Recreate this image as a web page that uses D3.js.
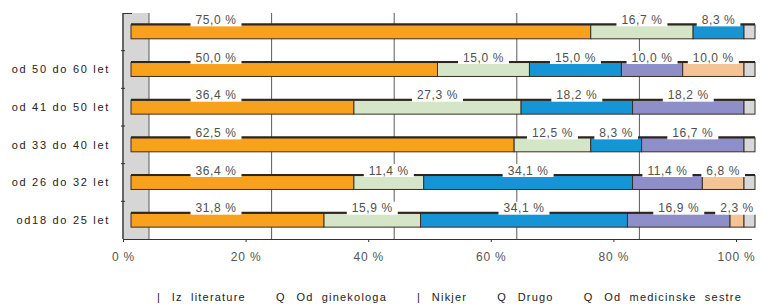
<!DOCTYPE html>
<meta charset="utf-8">
<script src="https://d3js.org/d3.v7.min.js"></script>
<style>
  body { margin: 0; background: #fff; }
  text { font-family: "Liberation Sans", Arial, sans-serif; }
</style>
<div id="chart"></div>
<script>

// categories (top row has no label in the original)
var categories = ["", "od 50 do 60 let", "od 41  do 50 let", "od 33 do 40 let", "od 26 do 32 let", "od18 do 25 let"];

// series names and the odd symbol glyphs that appear in the legend
var seriesNames = ["Iz literature", "Od ginekologa", "Nikjer", "Drugo", "Od medicinske sestre"];
var legendSymbols = ["|", "Q", "|", "Q", "Q"];
var seriesColors = ["#f7a11c", "#d4e5c8", "#1695d6", "#8e8ec9", "#f4c495"];

// values per series, one per category (percent)
var izLiterature  = [75.0, 50.0, 36.4, 62.5, 36.4, 31.8];
var odGinekologa  = [16.7, 15.0, 27.3, 12.5, 11.4, 15.9];
var nikjer        = [ 8.3, 15.0, 18.2,  8.3, 34.1, 34.1];
var drugo         = [ 0.0, 10.0, 18.2, 16.7, 11.4, 16.9];
var odSestre      = [ 0.0, 10.0,  0.0,  0.0,  6.8,  2.3];

var tickValues = [0, 20, 40, 60, 80, 100];

var width = 762, height = 304;

var svg = d3.select("#chart")
  .append("svg")
    .attr("width", width)
    .attr("height", height);

// build rows for the stack
var seriesArrays = [izLiterature, odGinekologa, nikjer, drugo, odSestre];
var rows = categories.map(function(c, i) {
  var r = {cat: c};
  seriesNames.forEach(function(s, j) { r[s] = seriesArrays[j][i]; });
  return r;
});

var stacked = d3.stack()
  .keys(seriesNames)
  .offset(d3.stackOffsetExpand)(rows);

// scales: bars in front, axis on the floor edge, grid on the back wall
var xBar  = d3.scaleLinear().domain([0, 1]).range([131, 744]);
var xAxis = d3.scaleLinear().domain([0, 100]).range([123, 736]);
var xGrid = d3.scaleLinear().domain([0, 100]).range([149, 762]);
var y = d3.scaleBand()
  .domain(categories)
  .range([13, 239])
  .paddingInner(0.63)
  .paddingOuter(0.315);

// left side wall
svg.append("rect")
  .attr("x", xAxis(0) + 1).attr("y", 13)
  .attr("width", xGrid(0) - xAxis(0) - 1).attr("height", 239 - 13)
  .style("fill", "#d6d6d6");
svg.append("line")
  .attr("x1", xAxis(0)).attr("x2", xAxis(0))
  .attr("y1", 13).attr("y2", 239)
  .attr("stroke", "#333").attr("stroke-width", 1.5);
svg.append("line")
  .attr("x1", xAxis(0)).attr("x2", xAxis(0) + 9)
  .attr("y1", 13.5).attr("y2", 13.5)
  .attr("stroke", "#333");

// small ticks between rows on the wall
svg.selectAll("rowtick")
  .data(categories.slice(1))
  .enter()
  .append("line")
    .attr("x1", xAxis(0) - 2).attr("x2", xAxis(0) + 2)
    .attr("y1", function(d) { return y(d) - y.step() * y.paddingInner() / 2; })
    .attr("y2", function(d) { return y(d) - y.step() * y.paddingInner() / 2; })
    .attr("stroke", "#333");

// back wall gridlines
svg.selectAll("grid")
  .data(tickValues.slice(0, 5))
  .enter()
  .append("line")
    .attr("x1", function(d) { return xGrid(d); })
    .attr("x2", function(d) { return xGrid(d); })
    .attr("y1", 13).attr("y2", 239)
    .attr("stroke", "#5a5a5a").attr("stroke-width", 1);

// floor edge + axis
svg.append("line")
  .attr("x1", xAxis(0)).attr("x2", 752)
  .attr("y1", 239.5).attr("y2", 239.5)
  .attr("stroke", "#333");

var axis = svg.append("g")
  .attr("transform", "translate(0,239)")
  .call(d3.axisBottom(xAxis)
    .tickValues(tickValues)
    .tickSize(3)
    .tickPadding(10)
    .tickFormat(function(d) { return d + " %"; }));
axis.select(".domain").remove();
axis.selectAll(".tick line").attr("stroke", "#333");
axis.selectAll(".tick text")
  .style("font-family", "'Liberation Sans', Arial, sans-serif")
  .style("font-size", "12px")
  .style("letter-spacing", "0.8px")
  .style("fill", "#555");

// category labels
svg.selectAll("catlabel")
  .data(categories)
  .enter()
  .append("text")
    .attr("x", 110)
    .attr("y", function(d) { return y(d) + y.bandwidth() / 2; })
    .attr("dy", "0.35em")
    .attr("text-anchor", "end")
    .style("font-size", "11px")
    .style("letter-spacing", "1.7px")
    .style("fill", "#222")
    .text(function(d) { return d; });

// bar segments
var layers = svg.selectAll("layer")
  .data(stacked)
  .enter()
  .append("g")
    .style("fill", function(d, i) { return seriesColors[i]; });

layers.selectAll("rect")
  .data(function(d) { return d; })
  .enter()
  .append("rect")
    .attr("x", function(d) { return xBar(d[0]); })
    .attr("y", function(d) { return y(d.data.cat); })
    .attr("width", function(d) { return xBar(d[1]) - xBar(d[0]); })
    .attr("height", y.bandwidth())
    .attr("stroke", "#3a2e22")
    .attr("stroke-width", 1);

// grey end caps
svg.selectAll("cap")
  .data(categories)
  .enter()
  .append("rect")
    .attr("x", xBar(1))
    .attr("y", function(d) { return y(d); })
    .attr("width", 11)
    .attr("height", y.bandwidth())
    .style("fill", "#d8d8d8")
    .attr("stroke", "#3a2e22");

// dark top edge of each bar
svg.selectAll("topedge")
  .data(categories)
  .enter()
  .append("line")
    .attr("x1", xBar(0))
    .attr("x2", xBar(1) + 11)
    .attr("y1", function(d) { return y(d) - 0.5; })
    .attr("y2", function(d) { return y(d) - 0.5; })
    .attr("stroke", "#2e261e")
    .attr("stroke-width", 2);

// value labels in white boxes sitting on the top edge
var labels = [];
stacked.forEach(function(layer, i) {
  layer.forEach(function(d, r) {
    var v = seriesArrays[i][r];
    if (v > 0) {
      var cx = i === 0 ? xBar(0) + 85 : (xBar(d[0]) + xBar(d[1])) / 2;
      labels.push({cx: cx, top: y(d.data.cat), text: v.toFixed(1).replace(".", ",") + " %"});
    }
  });
});

var lab = svg.selectAll("vlabel")
  .data(labels)
  .enter()
  .append("g");

lab.append("rect")
  .attr("y", function(d) { return d.top - 11.5; })
  .attr("height", 13)
  .style("fill", "#fff");

lab.append("text")
  .attr("x", function(d) { return d.cx; })
  .attr("y", function(d) { return d.top - 1; })
  .attr("text-anchor", "middle")
  .style("font-size", "12px")
  .style("letter-spacing", "0.6px")
  .style("fill", "#505050")
  .text(function(d) { return d.text; });

lab.each(function(d) {
  var g = d3.select(this);
  var w = g.select("text").node().getComputedTextLength() + 10;
  g.select("rect").attr("x", d.cx - w / 2).attr("width", w);
});

// legend
var legend = svg.append("g");
var lx = 157;
seriesNames.forEach(function(name, i) {
  var sym = legend.append("text")
    .attr("x", lx).attr("y", 301)
    .style("font-size", "11px")
    .style("fill", "#222")
    .text(legendSymbols[i]);
  lx += sym.node().getComputedTextLength() + 12;
  var t = legend.append("text")
    .attr("x", lx).attr("y", 301)
    .style("font-size", "11px")
    .style("letter-spacing", "1.2px")
    .style("word-spacing", "4px")
    .style("fill", "#222")
    .text(name);
  lx += t.node().getComputedTextLength() + 30;
});

</script>
